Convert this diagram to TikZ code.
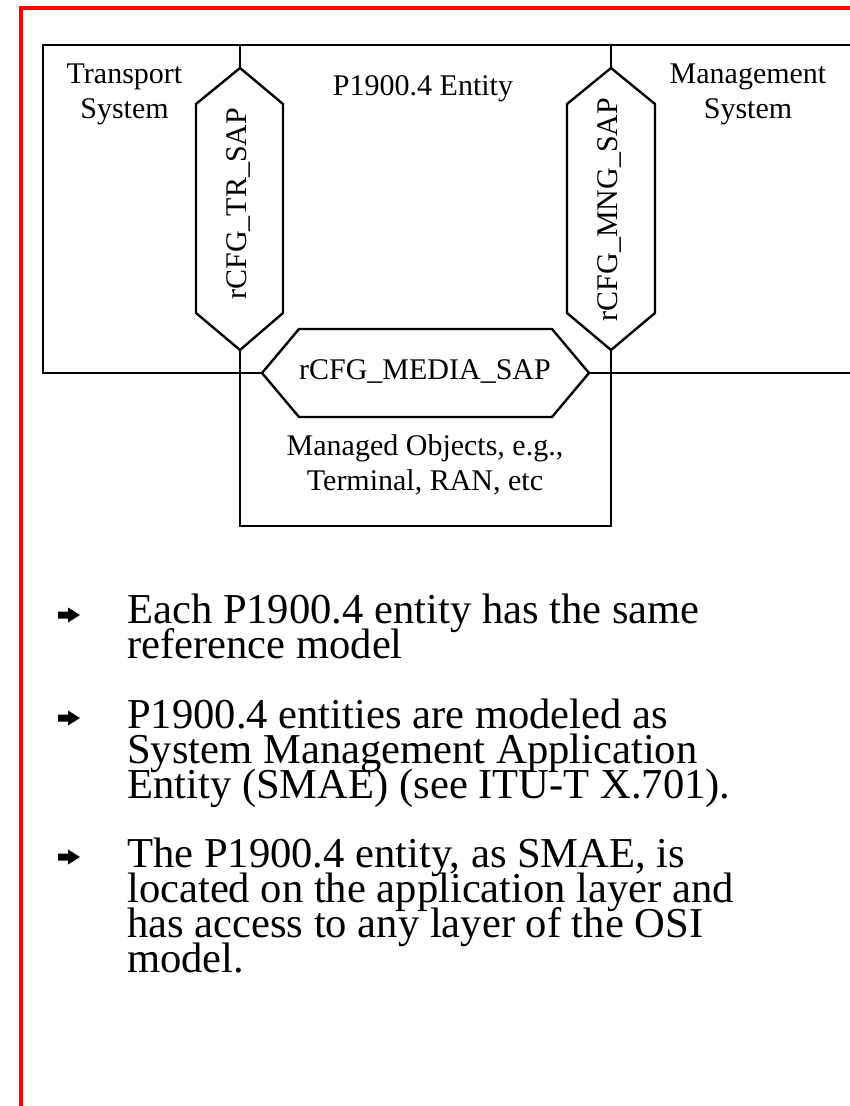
\documentclass[tikz,border=0pt]{standalone}
\usepackage{fontspec}
\setmainfont{Liberation Serif}
\begin{document}
\begin{tikzpicture}[x=1pt,y=-1pt,line join=miter,
  frame/.style={draw=red,line width=4pt},
  wire/.style={draw=black,line width=2.4pt},
  lbl/.style={font=\fontsize{30}{35}\selectfont,inner sep=0pt,anchor=base},
  vlbl/.style={font=\fontsize{30}{35}\selectfont,inner sep=0pt,rotate=90},
  bul/.style={font=\fontsize{42.6}{35}\selectfont,inner sep=0pt,anchor=base west},
  bulletmark/.pic={\fill (-11,-3.5) -- (-1,-3.5) -- (-1,-7.5) -- (11,0) -- (-1,7.5) -- (-1,3.5) -- (-11,3.5) -- cycle;}]
\useasboundingbox (0,0) rectangle (850,1106);
% red frame
\draw[frame] (20.5,1106) -- (20.5,8) -- (850,8);
% key points
\coordinate (boxTL) at (43,45);
\coordinate (boxBL) at (43,373);
\coordinate (boxTR) at (850,45);
\coordinate (boxBR) at (850,373);
\coordinate (trTop) at (240,45);
\coordinate (mngTop) at (611,45);
\coordinate (trTip) at (240,68);
\coordinate (trBot) at (240,350);
\coordinate (mngTip) at (611,68);
\coordinate (mngBot) at (611,350);
\coordinate (medL) at (262,373);
\coordinate (medR) at (589,373);
\coordinate (moBL) at (240,526);
\coordinate (moBR) at (611,526);
% entity box
\draw[wire] (boxTR) -- (boxTL) -- (boxBL) -- (medL);
\draw[wire] (medR) -- (boxBR);
% connectors to SAPs
\draw[wire] (trTop) -- (trTip);
\draw[wire] (mngTop) -- (mngTip);
% TR SAP hexagon
\draw[wire] (trTip) -- (283,104) -- (283,313) -- (trBot) -- (196,313) -- (196,104) -- cycle;
% MNG SAP hexagon
\draw[wire] (mngTip) -- (655,104) -- (655,313) -- (mngBot) -- (567,313) -- (567,104) -- cycle;
% managed objects box
\draw[wire] (trBot) -- (moBL) -- (moBR) -- (mngBot);
% MEDIA SAP hexagon
\draw[wire] (medL) -- (299,329) -- (552,329) -- (medR) -- (552,417) -- (299,417) -- cycle;
% labels
\node[lbl] (tr1) at (124.5,83) {Transport};
\node[lbl] (tr2) at (124.5,118) {System};
\node[lbl] (ent) at (423,95) {P1900.4 Entity};
\node[lbl] (ms1) at (748,83) {Management};
\node[lbl] (ms2) at (748,118) {System};
\node[vlbl] (trsap) at (238,203.5) {rCFG\_TR\_SAP};
\node[vlbl] (mngsap) at (609,209.5) {rCFG\_MNG\_SAP};
\node[lbl] (medsap) at (425,379) {rCFG\_MEDIA\_SAP};
\node[lbl] (mo1) at (425,455) {Managed Objects, e.g.,};
\node[lbl] (mo2) at (425,490) {Terminal, RAN, etc};
% bullets
\pic at (69,615) {bulletmark};
\pic at (69,718) {bulletmark};
\pic at (69,857) {bulletmark};
\node[bul] (b1a) at (127,623) {Each P1900.4 entity has the same};
\node[bul] (b1b) at (127,658) {reference model};
\node[bul] (b2a) at (127,728) {P1900.4 entities are modeled as};
\node[bul] (b2b) at (127,763) {System Management Application};
\node[bul] (b2c) at (127,798) {Entity (SMAE) (see ITU-T X.701).};
\node[bul] (b3a) at (127,867) {The P1900.4 entity, as SMAE, is};
\node[bul] (b3b) at (127,902) {located on the application layer and};
\node[bul] (b3c) at (127,937) {has access to any layer of the OSI};
\node[bul] (b3d) at (127,972) {model.};
\end{tikzpicture}
\end{document}
